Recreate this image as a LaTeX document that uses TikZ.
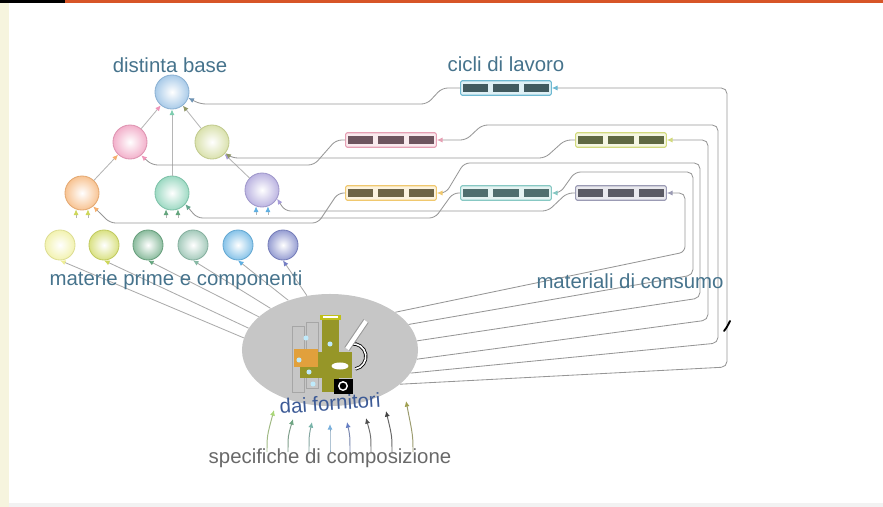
\documentclass[tikz,border=0pt]{standalone}
\usepackage{fontspec}
\setmainfont{Liberation Sans}
\usetikzlibrary{shapes.geometric, arrows.meta}

% colori del testo e dei fili
\definecolor{testo}{RGB}{70,115,140}
\definecolor{fornblu}{RGB}{60,90,150}
\definecolor{grigiotesto}{RGB}{105,105,105}
\definecolor{filo}{RGB}{150,150,150}
\definecolor{bordo}{RGB}{215,85,40}
\definecolor{striscia}{RGB}{246,244,222}
% sfere
\definecolor{cDB}{RGB}{140,185,225}
\definecolor{cRosa}{RGB}{238,150,185}
\definecolor{cGiallo}{RGB}{205,215,145}
\definecolor{cArancio}{RGB}{245,175,110}
\definecolor{cVerde}{RGB}{125,205,175}
\definecolor{cViola}{RGB}{165,155,215}
\definecolor{cM1}{RGB}{238,238,150}
\definecolor{cM2}{RGB}{205,215,90}
\definecolor{cM3}{RGB}{100,165,125}
\definecolor{cM4}{RGB}{135,185,165}
\definecolor{cM5}{RGB}{95,175,225}
\definecolor{cM6}{RGB}{115,125,195}
% cicli
\definecolor{bBlu}{RGB}{110,185,210}
\definecolor{bRosa}{RGB}{230,160,180}
\definecolor{bLime}{RGB}{210,218,125}
\definecolor{bOro}{RGB}{240,200,110}
\definecolor{bAcqua}{RGB}{135,200,195}
\definecolor{bGrigio}{RGB}{155,155,180}
\definecolor{kBlu}{RGB}{65,90,95}
\definecolor{kRosa}{RGB}{110,85,95}
\definecolor{kLime}{RGB}{95,105,65}
\definecolor{kOro}{RGB}{110,100,70}
\definecolor{kAcqua}{RGB}{80,110,110}
\definecolor{kGrigio}{RGB}{90,90,100}
% frecce in basso
\definecolor{sA}{RGB}{170,215,120}
\definecolor{sB}{RGB}{110,165,130}
\definecolor{sC}{RGB}{120,180,170}
\definecolor{sD}{RGB}{120,175,220}
\definecolor{sE}{RGB}{100,125,195}
\definecolor{sF}{RGB}{80,80,80}
\definecolor{sG}{RGB}{65,65,65}
\definecolor{sH}{RGB}{160,160,80}
% icona
\definecolor{oliva}{RGB}{150,150,40}
\definecolor{arancioicona}{RGB}{225,160,60}

\newcommand{\blocchi}[1]{\textcolor{#1}{\rule{0.64cm}{0.21cm}\hspace{0.12cm}\rule{0.64cm}{0.21cm}\hspace{0.12cm}\rule{0.64cm}{0.21cm}}}

\begin{document}
\begin{tikzpicture}[x=0.025cm, y=-0.025cm,
  sfera/.style={circle, minimum size=0.85cm, inner sep=0, draw=#1!85!gray, line width=0.6pt, inner color=white, outer color=#1!75},
  materia/.style={sfera=#1, minimum size=0.75cm},
  ciclo/.style={draw=#1, fill=#1!22, line width=0.8pt, rounded corners=1pt, inner sep=1.5pt, minimum height=0.36cm},
  nuvola/.style={ellipse, fill=gray!45, minimum width=4.4cm, minimum height=2.8cm},
  etichetta/.style={text=testo, font=\fontsize{14.5}{17}\selectfont, inner sep=1pt},
  linea/.style={draw=filo, line width=0.6pt, rounded corners=4pt},
  ramo/.style={draw=filo!70, line width=0.6pt},
  punta/.style={-{Latex[length=4pt, width=3.6pt, color=#1]}}]
\useasboundingbox (0,0) rectangle (883,507);

% cornice
\fill[black] (0,0) rectangle (65,3);
\fill[bordo] (65,0) rectangle (883,3);
\fill[striscia] (0,3) rectangle (9,507);
\fill[gray!10] (9,503) rectangle (883,507);

% fornitori
\node[nuvola] (forn) at (330,350) {};

% distinta base
\node[sfera=cDB] (db) at (172,92) {};
\node[sfera=cRosa] (rosa) at (130,142) {};
\node[sfera=cGiallo] (giallo) at (212,142) {};
\node[sfera=cArancio] (arancio) at (82,193) {};
\node[sfera=cVerde] (verde) at (172,193) {};
\node[sfera=cViola] (viola) at (262,190) {};
\foreach \c/\x [count=\i] in {cM1/60, cM2/104, cM3/148, cM4/193, cM5/238, cM6/283}
  \node[materia=\c] (m\i) at (\x,245) {};

\draw[ramo, punta=cRosa] (rosa) -- (db);
\draw[ramo, punta=cGiallo!70!black] (giallo) -- (db);
\draw[ramo, punta=cVerde] (verde) -- (db);
\draw[ramo, punta=cArancio] (arancio) -- (rosa);
\draw[ramo, punta=cViola] (viola) -- (giallo);
\foreach \s/\c in {arancio/cM2, verde/cM3, viola/cM5} {
  \draw[ramo, punta=\c] ([yshift=-6pt]\s.-110) -- (\s.-110);
  \draw[ramo, punta=\c] ([yshift=-6pt]\s.-70) -- (\s.-70);
}

% cicli di lavoro
\node[ciclo=bBlu] (c1) at (506,88) {\blocchi{kBlu}};
\node[ciclo=bRosa] (c2) at (391,140) {\blocchi{kRosa}};
\node[ciclo=bLime] (c3) at (621,140) {\blocchi{kLime}};
\node[ciclo=bOro] (c4) at (391,193) {\blocchi{kOro}};
\node[ciclo=bAcqua] (c5) at (506,193) {\blocchi{kAcqua}};
\node[ciclo=bGrigio] (c6) at (621,193) {\blocchi{kGrigio}};

% dai cicli alle sfere
\draw[linea, punta=cDB!80!black] (c1.west) -- (442,88) -- (427,104) -- (200,104) -- (db.-20);
\draw[linea, punta=cRosa] (c2.west) -- (336,140) -- (314,165) -- (152,165) -- (rosa.-50);
\draw[linea, punta=cGiallo!70!black] (c3.west) -- (565,140) -- (545,158) -- (232,158) -- (giallo.-40);
\draw[linea, punta=cArancio] (c4.west) -- (338,193) -- (318,223) -- (110,223) -- (arancio.-50);
\draw[linea, punta=cVerde!80!black] (c5.west) -- (453,193) -- (435,218) -- (197,218) -- (verde.-40);
\draw[linea, punta=cViola] (c6.west) -- (567,193) -- (548,211) -- (285,211) -- (viola.-30);

% materiali di consumo
\draw[linea, punta=bGrigio] (forn.30) -- (685,252) -- (685,193) -- (c6.east);
\draw[linea, punta=bAcqua] (forn.18) -- (693,275) -- (693,172) -- (575,172) -- (560,193) -- (c5.east);
\draw[linea, punta=bOro] (forn.6) -- (700,298) -- (700,163) -- (464,163) -- (446,193) -- (c4.east);
\draw[linea, punta=bLime] (forn.-6) -- (708,320) -- (708,140) -- (c3.east);
\draw[linea, punta=bRosa] (forn.-16) -- (718,343) -- (718,125) -- (482,125) -- (466,140) -- (c2.east);
\draw[linea, punta=bBlu] (forn.-26) -- (727,367) -- (727,88) -- (c1.east);
\draw[black, line width=1.3pt, line cap=round] (724,331) .. controls (727,327) .. (730,321);

% materie prime
\foreach \i/\a in {1/172, 2/165, 3/155, 4/145, 5/130, 6/113}
  \draw[linea, draw=filo!80, punta=cM\i] (forn.\a) -- (m\i.south);

% icona del laboratorio
\draw[gray!70, line width=0.4pt] (292,326) rectangle (304,392);
\draw[gray!70, line width=0.4pt] (306,322) rectangle (318,388);
\fill[oliva] (322,320) rectangle (339,392);
\fill[oliva!60!yellow] (320,315) rectangle (341,320);
\fill[white] (323,316) rectangle (338,318);
\fill[oliva] (300,352) rectangle (352,378);
\fill[arancioicona] (294,349) rectangle (318,367);
\fill[black] (334,379) rectangle (353,394);
\draw[white, line width=1pt] (343,386) circle (3pt);
\draw[black, double=white, double distance=1.2pt, line width=0.6pt] (351,344) arc[start angle=100, end angle=-80, radius=9pt];
\draw[gray!80, line width=4.5pt] (347,349) -- (366,321);
\draw[white, line width=3pt] (347,349) -- (366,321);
\fill[white] (340,366) ellipse (6pt and 2.5pt);
\foreach \p in {(306,338), (309,372), (330,344), (313,384), (299,360)}
  \fill[cyan!25!white] \p circle (1.8pt);

% specifiche di composizione
\foreach \xs/\xt/\yt/\c in {267/274/410/sA, 288/293/419/sB, 309/312/422/sC, 330/330/424/sD, 350/347/422/sE, 371/366/418/sF, 392/386/411/sG, 413/406/401/sH}
  \draw[draw=\c!55!filo, line width=0.7pt, punta=\c] (\xs,452) .. controls (\xs,436) .. (\xt,\yt);

% etichette
\node[etichetta] (tdb) at (170,65) {distinta base};
\node[etichetta] (tcicli) at (506,64) {cicli di lavoro};
\node[etichetta] (tmat) at (176,280) {materie prime e componenti};
\node[etichetta] (tcons) at (630,281) {materiali di consumo};
\node[etichetta, text=fornblu, rotate=4] (tforn) at (330,403) {dai fornitori};
\node[etichetta, text=grigiotesto] (tspec) at (330,458) {specifiche di composizione};
\end{tikzpicture}
\end{document}
